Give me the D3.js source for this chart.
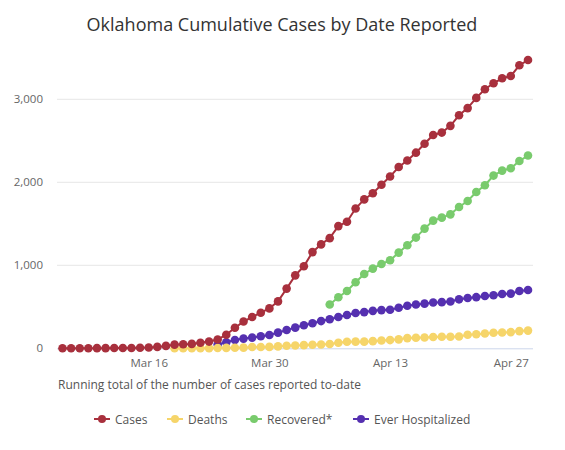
<!DOCTYPE html>
<html>
<head>
<meta charset="utf-8">
<script src="https://cdn.jsdelivr.net/npm/d3@7"></script>
<style>
  body { margin: 0; background: #fff; }
  svg { font-family: "Open Sans", sans-serif; }
</style>
</head>
<body>
<svg width="565" height="450"></svg>
<script>
// each series starts on its own day and runs one value per day to Apr 29
const casesStart = '2020-03-06';
const cases = [1, 1, 1, 1, 2, 2, 3, 4, 4, 7,
    10, 17, 29, 44, 49, 53, 67, 81, 106, 164, 248, 322, 377, 429, 481, 565,
    719, 879, 988, 1159, 1252, 1327, 1472, 1524, 1684, 1794, 1868, 1970, 2069, 2184,
    2263, 2357, 2465, 2570, 2599, 2680, 2807, 2894, 3017, 3121, 3193, 3253, 3280, 3410, 3473];

const deathsStart = '2020-03-19';
const deaths = [1, 1, 2, 2, 2, 3, 5, 7, 8, 15, 16, 17, 23,
    30, 34, 38, 42, 46, 51, 67, 79, 80, 80, 86, 94, 99, 108, 123, 127,
    131, 136, 139, 140, 143, 164, 170, 179, 187, 191, 195, 207, 213];

const recoveredStart = '2020-04-06';
const recovered = [528, 615, 690, 795, 895, 960, 1016, 1060, 1153, 1241, 1334, 1442,
    1538, 1574, 1614, 1702, 1775, 1883, 1964, 2081, 2141, 2169, 2257, 2322];

const hospStart = '2020-03-24';
const hospitalized = [45, 72, 100, 117, 129, 145, 160, 189,
    220, 249, 277, 301, 328, 350, 377, 402, 426, 436, 451, 460, 464, 488, 512,
    528, 538, 552, 556, 564, 590, 606, 616, 630, 640, 654, 659, 690, 702];

const xTicks = ['2020-03-16', '2020-03-30', '2020-04-13', '2020-04-27'];
const yTicks = [0, 1000, 2000, 3000];

const seriesNames = ['Cases', 'Deaths', 'Recovered*', 'Ever Hospitalized'];
const colors = ['#a8303d', '#f6d56a', '#79cb6d', '#5530b0'];

const parse = d3.utcParse('%Y-%m-%d');

function toPoints(start, values) {
    const t0 = parse(start);
    return values.map((v, i) => ({ date: d3.utcDay.offset(t0, i), value: v }));
}

const series = [
    toPoints(casesStart, cases),
    toPoints(deathsStart, deaths),
    toPoints(recoveredStart, recovered),
    toPoints(hospStart, hospitalized)
];

const svg = d3.select('svg');

const x = d3.scaleUtc()
    .domain([parse(casesStart), parse('2020-04-29')])
    .range([62.5, 528]);
const y = d3.scaleLinear().domain([0, 3000]).range([348.3, 99.3]);

// title
svg.append('text')
    .attr('x', 282).attr('y', 31)
    .attr('text-anchor', 'middle')
    .attr('font-size', 18)
    .attr('fill', '#333')
    .text('Oklahoma Cumulative Cases by Date Reported');

// grid lines + y labels
svg.append('g').selectAll('line').data(yTicks.slice(1)).join('line')
    .attr('x1', 57).attr('x2', 533)
    .attr('y1', d => y(d)).attr('y2', d => y(d))
    .attr('stroke', '#e6e6e6').attr('stroke-width', 1);

svg.append('g').selectAll('text').data(yTicks).join('text')
    .attr('x', 43).attr('y', d => y(d) + 4)
    .attr('text-anchor', 'end')
    .attr('font-size', 11.5)
    .attr('fill', '#666')
    .text(d => d3.format(',')(d));

// x axis
const xAxis = svg.append('g')
    .attr('transform', `translate(0,${y(0)})`)
    .call(d3.axisBottom(x)
        .tickValues(xTicks.map(parse))
        .tickFormat(d3.utcFormat('%b %-d'))
        .tickSize(0)
        .tickPadding(11));
xAxis.select('.domain').attr('d', 'M57,0.5H533').attr('stroke', '#ccd6eb');
xAxis.selectAll('text')
    .attr('font-family', '"Open Sans", sans-serif')
    .attr('font-size', 11.5)
    .attr('fill', '#666');

svg.append('text')
    .attr('x', 58).attr('y', 389)
    .attr('font-size', 12)
    .attr('fill', '#555')
    .text('Running total of the number of cases reported to-date');

// series, cases drawn last so it sits on top
const line = d3.line().x(d => x(d.date)).y(d => y(d.value));
const order = [3, 2, 1, 0];
order.forEach(k => {
    const g = svg.append('g');
    g.append('path')
        .attr('d', line(series[k]))
        .attr('fill', 'none')
        .attr('stroke', colors[k])
        .attr('stroke-width', 2);
    g.selectAll('circle').data(series[k]).join('circle')
        .attr('cx', d => x(d.date))
        .attr('cy', d => y(d.value))
        .attr('r', 4.3)
        .attr('fill', colors[k]);
});

// legend
const legendX = [94, 167, 246, 353];
const legend = svg.append('g').selectAll('g').data(seriesNames).join('g')
    .attr('transform', (d, i) => `translate(${legendX[i]},419)`);
legend.append('line')
    .attr('x1', 0).attr('x2', 16)
    .attr('stroke', (d, i) => colors[i]).attr('stroke-width', 2);
legend.append('circle')
    .attr('cx', 8).attr('r', 4)
    .attr('fill', (d, i) => colors[i]);
legend.append('text')
    .attr('x', 21).attr('y', 4.5)
    .attr('font-size', 12)
    .attr('fill', '#555')
    .text(d => d);
</script>
</body>
</html>
